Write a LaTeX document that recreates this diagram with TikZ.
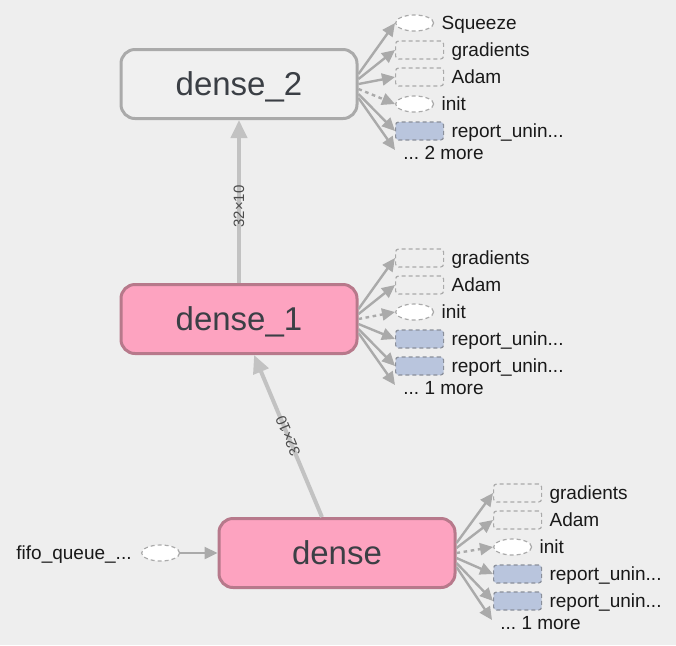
\documentclass[tikz,border=0pt]{standalone}
\usepackage{fontspec}
\setmainfont{Liberation Sans}
\usetikzlibrary{positioning, arrows.meta, shapes.geometric}

\definecolor{bgGray}{HTML}{EEEEEE}
\definecolor{opFill}{HTML}{F0F0F0}
\definecolor{opLine}{HTML}{AAAAAA}
\definecolor{pinkFill}{HTML}{FDA3C0}
\definecolor{pinkLine}{HTML}{B7798B}
\definecolor{opText}{HTML}{3B3F45}
\definecolor{edgeGray}{HTML}{AAAAAA}
\definecolor{mainGray}{HTML}{C2C2C2}
\definecolor{sumFill}{HTML}{B9C5DD}
\definecolor{annLine}{HTML}{AAAAAA}
\definecolor{sumLine}{HTML}{8A8F9A}
\newcommand\cutoff{...}

\tikzset{
  every op/.style={rounded corners=7pt, minimum width=118pt, minimum height=34.5pt,
    line width=1.5pt, text=opText, font=\fontsize{16.5}{18}\selectfont,
    text height=11.9pt, text depth=0pt},
  op plain/.style={every op, draw=opLine, fill=opFill},
  op pink/.style={every op, draw=pinkLine, fill=pinkFill},
  ann rect/.style={draw=annLine, fill=bgGray, line width=0.6pt, dash pattern=on 2pt off 1.5pt,
    rounded corners=1.5pt, minimum width=24pt, minimum height=9pt, inner sep=0pt, anchor=west},
  ann oval/.style={ellipse, draw=annLine, fill=white, line width=0.6pt, dash pattern=on 2pt off 1.5pt,
    minimum width=19pt, minimum height=8pt, inner sep=0pt, anchor=west},
  ann sum/.style={ann rect, draw=sumLine, fill=sumFill},
  ann text/.style={font=\fontsize{9.5}{11}\selectfont, text=black!90, inner sep=0pt,
    text height=6.8pt, text depth=0pt},
  ann edge/.style={draw=edgeGray, line width=1.2pt, -{Triangle[length=6.5pt,width=6pt]}},
  ctrl edge/.style={ann edge, dash pattern=on 1.8pt off 1.8pt},
  main edge/.style={draw=mainGray, line width=2pt, -{Triangle[length=9pt,width=8pt]}},
  shape label/.style={font=\fontsize{7.5}{8}\selectfont, text=black!70, inner sep=1pt}
}

\begin{document}
\begin{tikzpicture}[x=0.5pt, y=-0.5pt]
\useasboundingbox[fill=bgGray] (0,0) rectangle (676,645);

% ops
\node [op plain] (dense2) at (239,84) {dense\_2};
\node [op pink] (dense1) at (239,319) {dense\_1};
\node [op pink] (dense) at (337,553) {dense};

% input
\node [ann oval] (fifo) at (141,553) {};
\node [ann text, left=4.5pt of fifo] (fifo-text) {fifo\_queue\_\cutoff};
\draw [ann edge] (fifo) -- (dense);

% data flow
\draw [main edge] (dense1) -- (dense2)
  node [shape label, pos=0.47, sloped] {32×10};
\draw [main edge] (dense) -- (dense1)
  node [shape label, midway, sloped, allow upside down] {32×10};

% annotations of dense_2
\foreach \k/\t [count=\i] in {oval/Squeeze,rect/gradients,rect/Adam,oval/init,sum/report\_unin\cutoff}
  \node [ann \k] (d2-ann-\i) at (395,{84-61+27*(\i-1)}) {};
\foreach \k/\t [count=\i] in {oval/Squeeze,rect/gradients,rect/Adam,oval/init,sum/report\_unin\cutoff}
  \node [ann text, right=3.5pt of d2-ann-\i, anchor=west] {\t};
\node [ann text, anchor=west] (d2-more) at (403,153) {\cutoff\ 2 more};
\foreach \i in {1,2,3,5}
  \draw [ann edge] ([yshift={-(\i-3)*2.5pt}]dense2.east) -- (d2-ann-\i.west);
\draw [ctrl edge] ([yshift=-2.5pt]dense2.east) -- (d2-ann-4.west);
\draw [ann edge] ([yshift=-7pt]dense2.east) -- ([xshift=-4pt,yshift=1.5pt]d2-more.west);

% annotations of dense_1
\foreach \k/\t [count=\i] in {rect/gradients,rect/Adam,oval/init,sum/report\_unin\cutoff,sum/report\_unin\cutoff}
  \node [ann \k] (d1-ann-\i) at (395,{319-61+27*(\i-1)}) {};
\foreach \k/\t [count=\i] in {rect/gradients,rect/Adam,oval/init,sum/report\_unin\cutoff,sum/report\_unin\cutoff}
  \node [ann text, right=3.5pt of d1-ann-\i, anchor=west] {\t};
\node [ann text, anchor=west] (d1-more) at (403,388) {\cutoff\ 1 more};
\foreach \i in {1,2,4,5}
  \draw [ann edge] ([yshift={-(\i-3)*2.5pt}]dense1.east) -- (d1-ann-\i.west);
\draw [ctrl edge] (dense1.east) -- (d1-ann-3.west);
\draw [ann edge] ([yshift=-7pt]dense1.east) -- ([xshift=-4pt,yshift=1.5pt]d1-more.west);

% annotations of dense
\foreach \k/\t [count=\i] in {rect/gradients,rect/Adam,oval/init,sum/report\_unin\cutoff,sum/report\_unin\cutoff}
  \node [ann \k] (d0-ann-\i) at (493,{553-60+27*(\i-1)}) {};
\foreach \k/\t [count=\i] in {rect/gradients,rect/Adam,oval/init,sum/report\_unin\cutoff,sum/report\_unin\cutoff}
  \node [ann text, right=3.5pt of d0-ann-\i, anchor=west] {\t};
\node [ann text, anchor=west] (d0-more) at (500,623) {\cutoff\ 1 more};
\foreach \i in {1,2,4,5}
  \draw [ann edge] ([yshift={-(\i-3)*2.5pt}]dense.east) -- (d0-ann-\i.west);
\draw [ctrl edge] (dense.east) -- (d0-ann-3.west);
\draw [ann edge] ([yshift=-7pt]dense.east) -- ([xshift=-4pt,yshift=1.5pt]d0-more.west);
\end{tikzpicture}
\end{document}
